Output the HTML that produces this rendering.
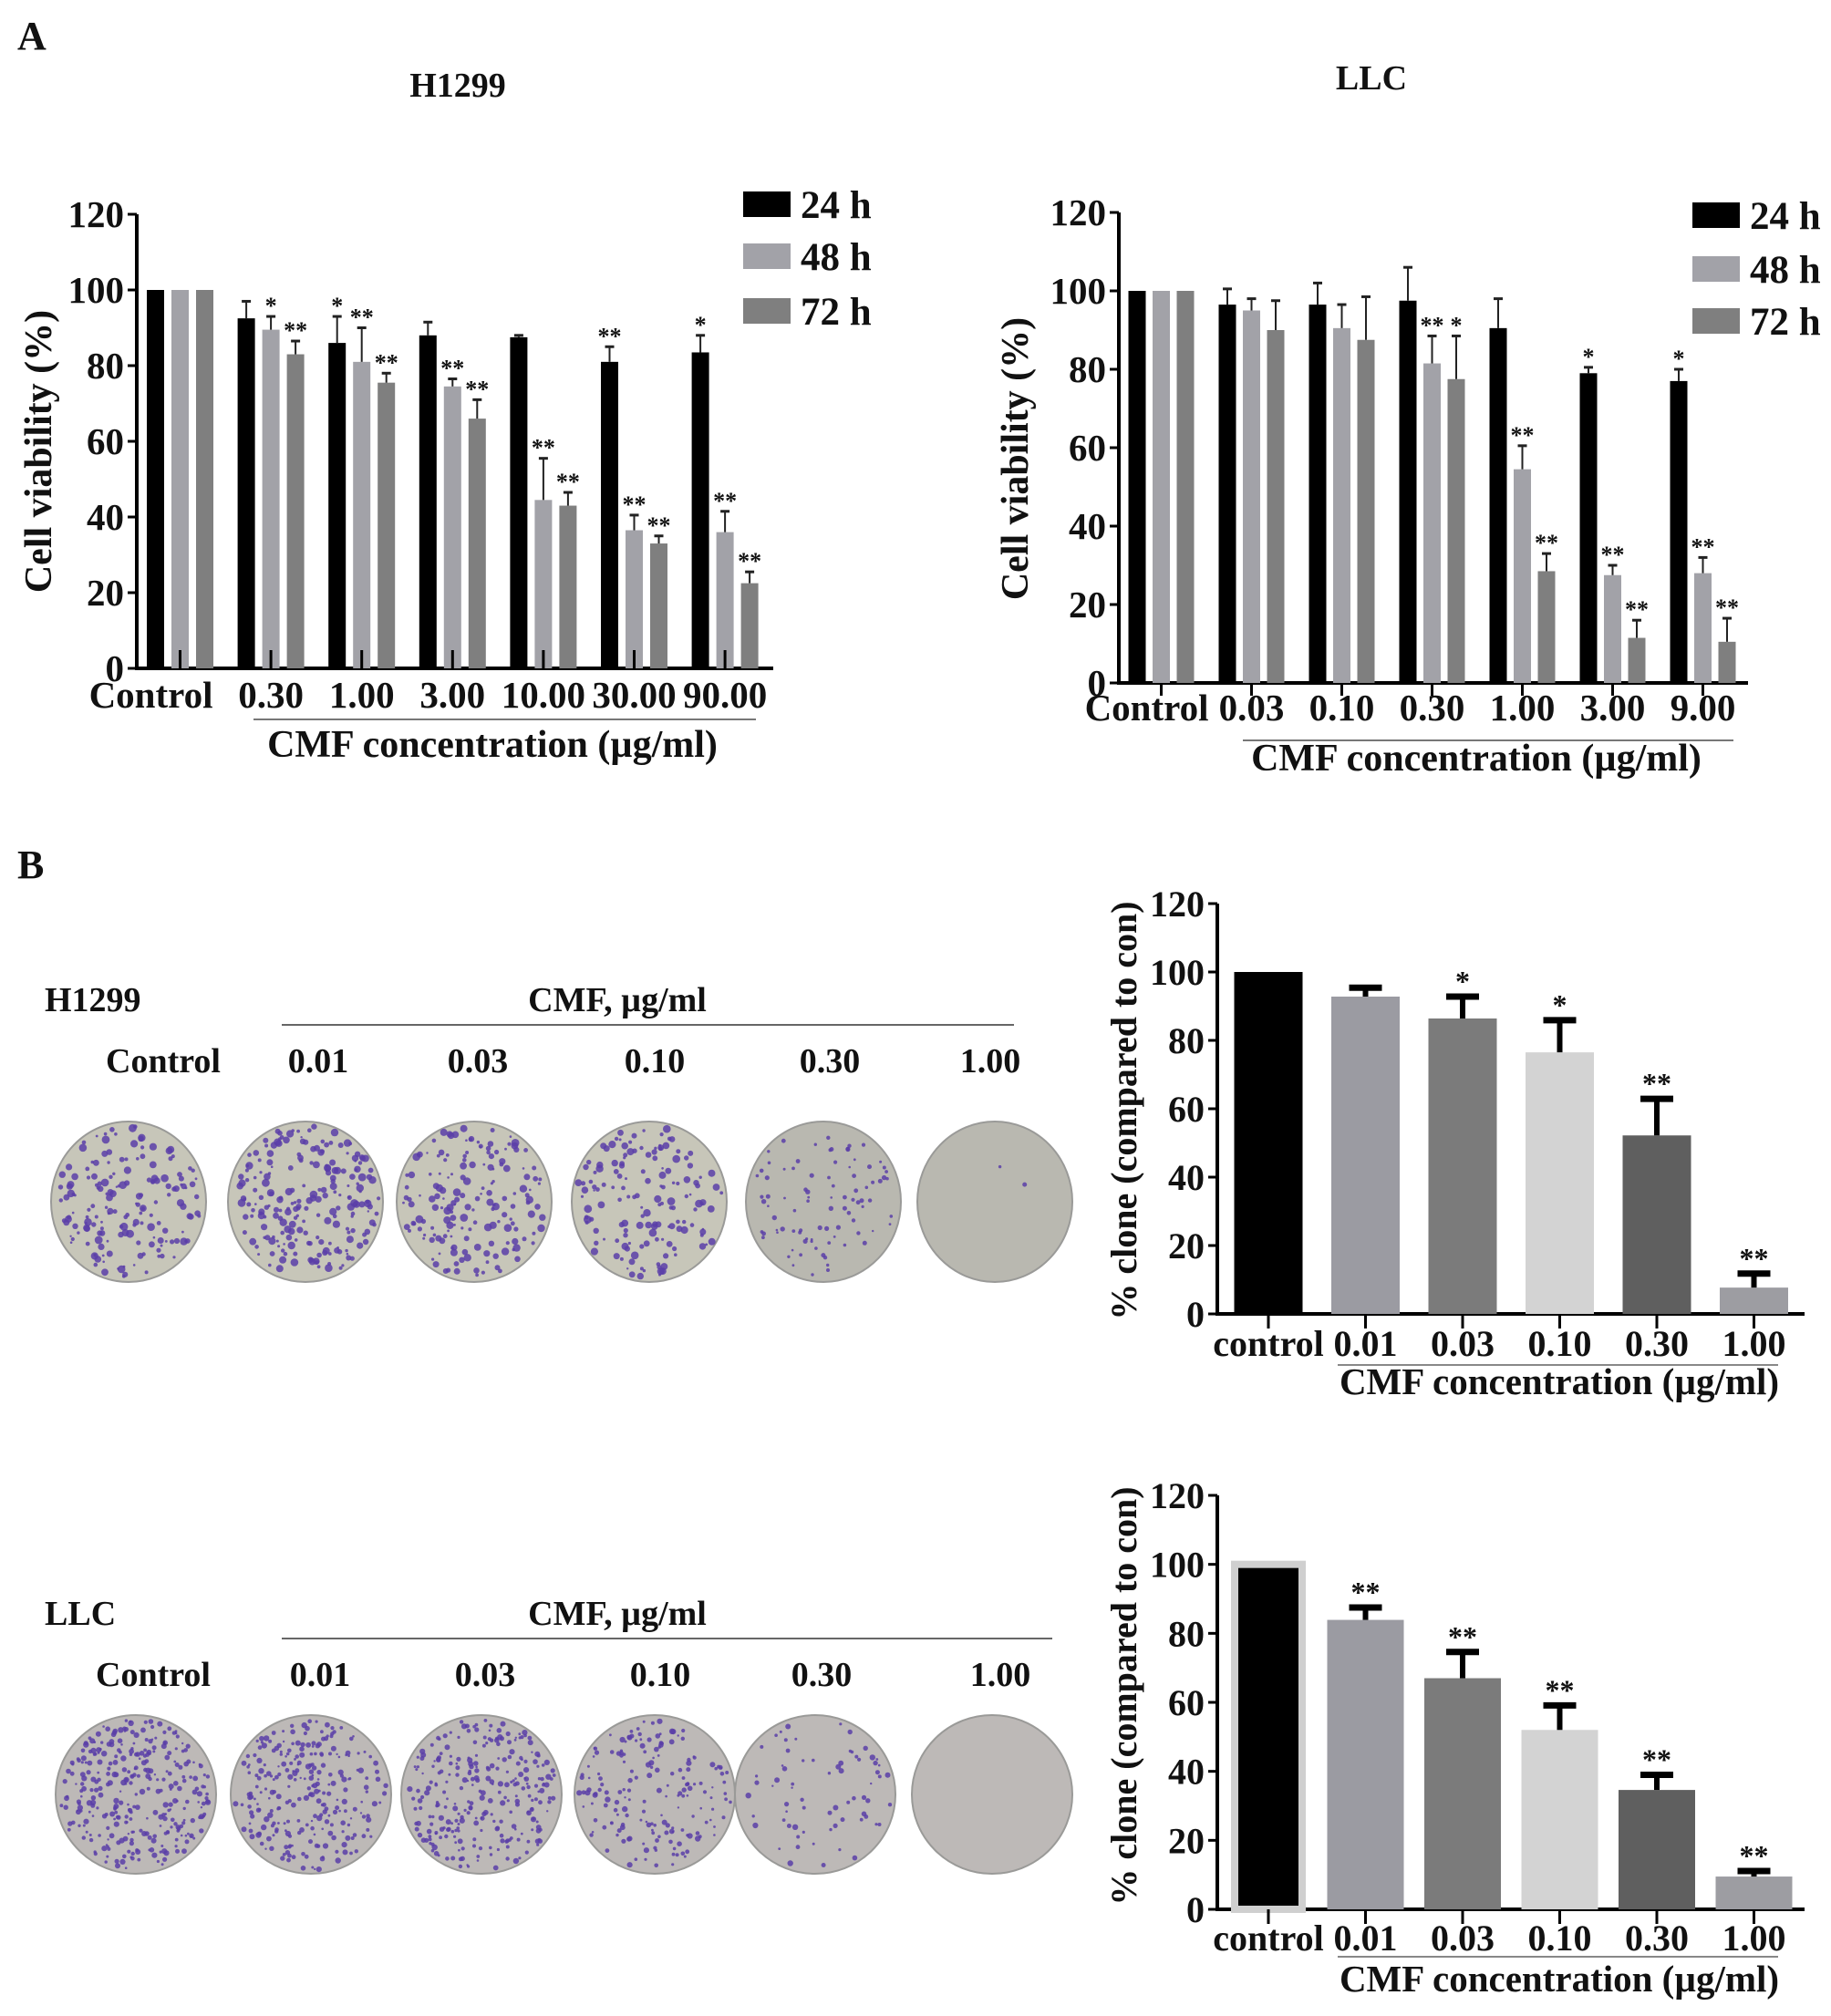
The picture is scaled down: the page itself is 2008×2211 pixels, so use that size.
<!DOCTYPE html>
<html><head><meta charset="utf-8"><title>CMF viability and clonogenic assays</title>
<style>
html,body{margin:0;padding:0;background:#fff;}
svg{display:block;font-family:"Liberation Serif","DejaVu Serif",serif;}
text{font-weight:bold;fill:#111;}
</style></head>
<body>
<svg id="fig" xmlns="http://www.w3.org/2000/svg" width="2008" height="2211" viewBox="0 0 2008 2211">
  <text x="19" y="54" font-size="44">A</text>
  <text x="19" y="963" font-size="44">B</text>
  <text x="502" y="106" font-size="38" text-anchor="middle">H1299</text>
  <text x="1504" y="98" font-size="38" text-anchor="middle">LLC</text>
  <g id="a1"></g>
  <g id="a2"></g>
  <g id="b1"></g>
  <g id="b2"></g>
  <g id="dishes"></g>
</svg>
<script>
// ---------- Panel A data ----------
const a1Categories = ["Control","0.30","1.00","3.00","10.00","30.00","90.00"];
const a1Series24 = [100,92.5,86,88,87.5,81,83.5];
const a1Err24 = [0,4.5,7,3.5,0.5,4,4.5];
const a1Series48 = [100,89.5,81,74.5,44.5,36.5,36];
const a1Err48 = [0,3.5,9,2,11,4,5.5];
const a1Series72 = [100,83,75.5,66,43,33,22.5];
const a1Err72 = [0,3.5,2.5,5,3.5,2,3];
const a1Stars24 = ["","","*","","","**","*"];
const a1Stars48 = ["","*","**","**","**","**","**"];
const a1Stars72 = ["","**","**","**","**","**","**"];

const a2Categories = ["Control","0.03","0.10","0.30","1.00","3.00","9.00"];
const a2Series24 = [100,96.5,96.5,97.5,90.5,79,77];
const a2Err24 = [0,4,5.5,8.5,7.5,1.5,3];
const a2Series48 = [100,95,90.5,81.5,54.5,27.5,28];
const a2Err48 = [0,3,6,7,6,2.5,4];
const a2Series72 = [100,90,87.5,77.5,28.5,11.5,10.5];
const a2Err72 = [0,7.5,11,11,4.5,4.5,6];
const a2Stars24 = ["","","","","","*","*"];
const a2Stars48 = ["","","","**","**","**","**"];
const a2Stars72 = ["","","","*","**","**","**"];

const yTicksA = [0,20,40,60,80,100,120];
const legendLabels = ["24 h","48 h","72 h"];

// ---------- Panel B data ----------
const bCategories = ["control","0.01","0.03","0.10","0.30","1.00"];
const b1Values = [100,92.8,86.4,76.5,52.2,7.7];
const b1Errors = [0,2.6,6.4,9.4,10.7,4.1];
const b1Stars = ["","","*","*","**","**"];
const b2Values = [100,83.9,67,52,34.6,9.5];
const b2Errors = [0,3.6,7.6,7.1,4.4,1.6];
const b2Stars = ["","**","**","**","**","**"];
const yTicksB = [0,20,40,60,80,100,120];

const NS = "http://www.w3.org/2000/svg";
function mk(parent, tag, attrs, txt){
  const e = document.createElementNS(NS, tag);
  for (const k in attrs) e.setAttribute(k, attrs[k]);
  if (txt !== undefined) e.textContent = txt;
  parent.appendChild(e);
  return e;
}
const seriesColors = ["#000000","#a2a2a8","#7f7f7f"];

function grouped(g, cfg, cats, vals, errs, stars){
  const yS = v => cfg.y0 - (v/120)*(cfg.y0 - cfg.y120);
  const xC = i => cfg.c0 + i*cfg.step;
  let e = mk(g,"line",{x1:cfg.ax,y1:cfg.y120,x2:cfg.ax,y2:cfg.y0,stroke:"#000","stroke-width":4});
   
  e = mk(g,"line",{x1:cfg.ax-2,y1:cfg.y0,x2:cfg.axEnd,y2:cfg.y0,stroke:"#000","stroke-width":4});
   
  yTicksA.forEach(t=>{
    mk(g,"line",{x1:cfg.ax-10,y1:yS(t),x2:cfg.ax,y2:yS(t),stroke:"#000","stroke-width":3});
    const tl = mk(g,"text",{x:cfg.ax-14,y:yS(t)+14,"font-size":41,"text-anchor":"end"},t);
     
  });
  const offs = [-cfg.off,0,cfg.off];
  cats.forEach((c,i)=>{
    for (let s=0;s<3;s++){
      const v = vals[s][i], er = errs[s][i];
      const cx = xC(i)+offs[s];
      const b = mk(g,"rect",{x:cx-cfg.bw/2,y:yS(v),width:cfg.bw,height:cfg.y0-yS(v),fill:seriesColors[s]});
      
      
      if (er>0){
        mk(g,"line",{x1:cx,y1:yS(v),x2:cx,y2:yS(v+er),stroke:"#222","stroke-width":2});
        mk(g,"line",{x1:cx-5,y1:yS(v+er),x2:cx+5,y2:yS(v+er),stroke:"#222","stroke-width":3});
      }
      if (stars[s][i]){
        const st = mk(g,"text",{x:cx,y:yS(v+er)-3,"font-size":26,"text-anchor":"middle"},stars[s][i]);
         
      }
    }
    mk(g,"line",{x1:xC(i),y1:cfg.y0+cfg.tickDir[0],x2:xC(i),y2:cfg.y0+cfg.tickDir[1],stroke:"#000","stroke-width":3});
    const lx = i===0 ? xC(i)+cfg.ctrlEnd : xC(i);
    const lbl = mk(g,"text",{x:lx,y:cfg.tickY,"font-size":41,"text-anchor":i===0?"end":"middle"},c);
     
  });
  e = mk(g,"line",{x1:cfg.lineX1,y1:cfg.lineY,x2:cfg.lineX2,y2:cfg.lineY,stroke:"#777","stroke-width":2});
   
  e = mk(g,"text",{x:cfg.titleX,y:cfg.titleY,"font-size":42,"text-anchor":"middle"},"CMF concentration (\u00b5g/ml)");
   
  e = mk(g,"text",{x:0,y:0,"font-size":42,"text-anchor":"middle",transform:`translate(${cfg.ytX},${cfg.ytY}) rotate(-90)`},"Cell viability (%)");
   
  legendLabels.forEach((l,k)=>{
    const r = mk(g,"rect",{x:cfg.legX,y:cfg.legY[k]-14,width:52,height:28,fill:seriesColors[k]});
     
    const t = mk(g,"text",{x:cfg.legX+63,y:cfg.legY[k]+15,"font-size":43},l);
     
  });
}

grouped(document.getElementById('a1'),
  {ax:150,axEnd:848,y0:733,y120:235,c0:197.5,step:99.6,off:27,bw:19,tickDir:[0,-20],tickY:776,ctrlEnd:36,
   lineX1:278,lineX2:829,lineY:789,titleX:540,titleY:830,ytX:56,ytY:495,legX:815,legY:[224,281,341]},
  a1Categories,[a1Series24,a1Series48,a1Series72],[a1Err24,a1Err48,a1Err72],[a1Stars24,a1Stars48,a1Stars72]);
grouped(document.getElementById('a2'),
  {ax:1227,axEnd:1917,y0:749,y120:233,c0:1273.5,step:99,off:26.5,bw:19,tickDir:[0,14],tickY:790,ctrlEnd:52,
   lineX1:1363,lineX2:1901,lineY:812,titleX:1619,titleY:845,ytX:1127,ytY:503,legX:1856,legY:[236,295,352]},
  a2Categories,[a2Series24,a2Series48,a2Series72],[a2Err24,a2Err48,a2Err72],[a2Stars24,a2Stars48,a2Stars72]);

const bColors = ["#000000","#9b9ba2","#7b7b7b","#d3d3d3","#5f5f5f","#9d9da2"];
function single(g,cfg,cats,vals,errs,stars){
  const yS = v => cfg.y0 - (v/120)*(cfg.y0 - cfg.y120);
  const xC = i => cfg.c0 + i*cfg.step;
  let e = mk(g,"line",{x1:cfg.ax,y1:cfg.y120,x2:cfg.ax,y2:cfg.y0,stroke:"#000","stroke-width":4});
   
  e = mk(g,"line",{x1:cfg.ax-2,y1:cfg.y0,x2:cfg.axEnd,y2:cfg.y0,stroke:"#000","stroke-width":4});
   
  yTicksB.forEach(t=>{
    mk(g,"line",{x1:cfg.ax-10,y1:yS(t),x2:cfg.ax,y2:yS(t),stroke:"#000","stroke-width":3});
    const tl = mk(g,"text",{x:cfg.ax-14,y:yS(t)+14,"font-size":40,"text-anchor":"end"},t);
     
  });
  cats.forEach((c,i)=>{
    const v=vals[i], er=errs[i], cx=xC(i);
    const attrs = {x:cx-cfg.bw/2,y:yS(v),width:cfg.bw,height:cfg.y0-yS(v),fill:bColors[i]};
    if (i===0 && cfg.ctrlBorder){ attrs.stroke="#cfcfcf"; attrs["stroke-width"]=8; attrs.x=cx-cfg.bw/2+5; attrs.width=cfg.bw-10; }
    const b = mk(g,"rect",attrs);
    
    
    if (er>0){
      mk(g,"line",{x1:cx,y1:yS(v),x2:cx,y2:yS(v+er),stroke:"#000","stroke-width":6});
      mk(g,"line",{x1:cx-18,y1:yS(v+er),x2:cx+18,y2:yS(v+er),stroke:"#000","stroke-width":7});
    }
    if (stars[i]){
      const st = mk(g,"text",{x:cx,y:yS(v+er)-6,"font-size":32,"text-anchor":"middle"},stars[i]);
       
    }
    mk(g,"line",{x1:cx,y1:cfg.y0,x2:cx,y2:cfg.y0+16,stroke:"#000","stroke-width":3});
    const lbl = mk(g,"text",{x:cx,y:cfg.tickY,"font-size":40,"text-anchor":"middle"},c);
     
  });
  e = mk(g,"line",{x1:1467,y1:cfg.lineY,x2:1950,y2:cfg.lineY,stroke:"#888","stroke-width":2});
   
  e = mk(g,"text",{x:1710,y:cfg.titleY,"font-size":41,"text-anchor":"middle"},"CMF concentration (\u00b5g/ml)");
   
  e = mk(g,"text",{x:0,y:0,"font-size":40,"text-anchor":"middle",transform:`translate(${cfg.ytX},${cfg.ytY}) rotate(-90)`},"% clone (compared to con)");
   
}
single(document.getElementById('b1'),
  {ax:1335,axEnd:1979,y0:1441,y120:991,c0:1391,step:106.5,bw:75,tickY:1487,lineY:1497,titleY:1529,ytX:1246,ytY:1218},
  bCategories,b1Values,b1Errors,b1Stars);
single(document.getElementById('b2'),
  {ax:1335,axEnd:1979,y0:2094,y120:1640,c0:1391,step:106.5,bw:84,ctrlBorder:true,tickY:2139,lineY:2146,titleY:2184,ytX:1246,ytY:1860},
  bCategories,b2Values,b2Errors,b2Stars);

// ---------- Colony dishes (illustration) ----------
const dg = document.getElementById('dishes');
let seed = 12345;
function rnd(){ seed = (seed*16807) % 2147483647; return seed/2147483647; }
function header(cell, yLabel, yLine, yConc, lineEnd, concX){
  let e = mk(dg,"text",{x:49,y:yLabel,"font-size":38},cell);
   
  e = mk(dg,"text",{x:677,y:yLabel,"font-size":38,"text-anchor":"middle"},"CMF, \u00b5g/ml");
   
  e = mk(dg,"line",{x1:309,y1:yLine,x2:lineEnd,y2:yLine,stroke:"#666","stroke-width":2});
   
  ["Control","0.01","0.03","0.10","0.30","1.00"].forEach((t,i)=>{
    const c = mk(dg,"text",{x:concX[i],y:yConc,"font-size":38,"text-anchor":"middle"},t);
     
  });
}
function dish(cx,cy,rx,ry,bg,n,dot){
  const el = mk(dg,"ellipse",{cx:cx,cy:cy,rx:rx,ry:ry,fill:bg,stroke:"#9a9a98","stroke-width":2});
   
  for(let k=0;k<n;k++){
    const a=rnd()*Math.PI*2, r=Math.sqrt(rnd())*0.95;
    const s = 1.2+rnd()*dot;
    mk(dg,"circle",{cx:(cx+Math.cos(a)*r*rx).toFixed(1),cy:(cy+Math.sin(a)*r*ry).toFixed(1),r:s.toFixed(1),fill:"#5b3ea8","fill-opacity":0.85});
  }
}
header("H1299",1109,1124,1176,1112,[179,349,524,718,910,1086]);
[[141,170],[335,220],[520,170],[712,150],[903,90],[1091,2]].forEach((d,i)=>{
  dish(d[0],1318,85,88,i<4?"#c7c6b9":"#b9b8b0",d[1],i<4?3.2:1.6);
});
header("LLC",1782,1797,1849,1154,[168,351,532,724,901,1097]);
[[149,320],[341,260],[528,280],[718,180],[894,70],[1088,0]].forEach((d,i)=>{
  dish(d[0],1968,88,87,"#bdb9b7",d[1],2.0);
});
</script>
</body></html>
